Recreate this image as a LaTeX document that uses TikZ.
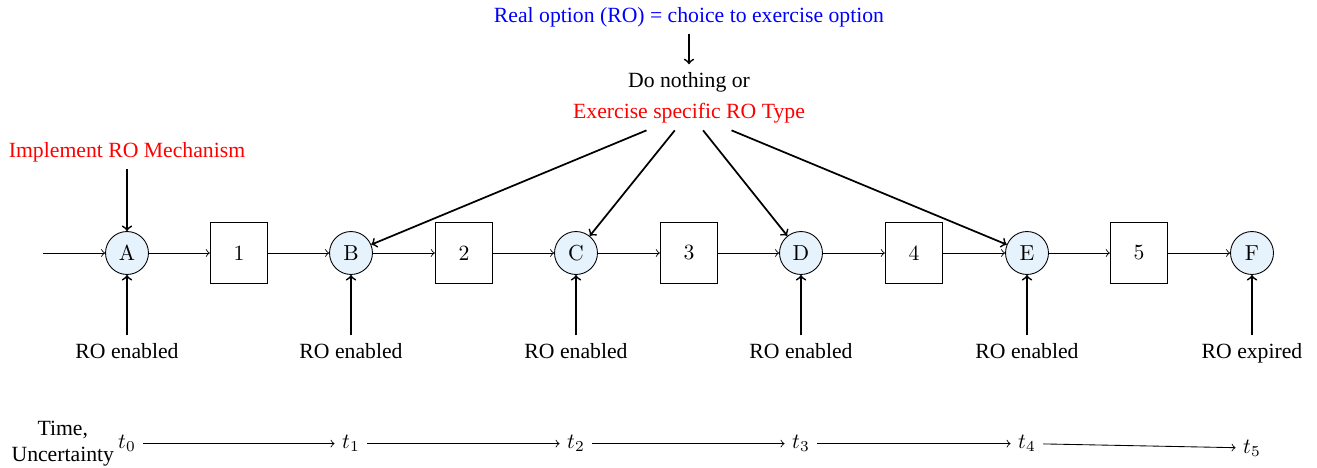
\documentclass[tikz,border=0pt]{standalone}
\usepackage{fontspec}
\newfontfamily\tnr{Liberation Serif}
\usetikzlibrary{positioning}
\definecolor{nodefill}{RGB}{230,242,252}
\begin{document}
\begin{tikzpicture}[x=0.4608pt,y=-0.4608pt,
  state/.style={circle,draw,fill=nodefill,minimum size=19.8pt,inner sep=0pt},
  stage/.style={rectangle,draw,minimum width=26.5pt,minimum height=28pt},
  lbl/.style={font=\tnr},
  flow/.style={->},
  cause/.style={->,thick},
]
\useasboundingbox (0,0) rectangle (1317,468);

% decision texts at the top
\node[lbl,text=blue,anchor=base] (ro) at (689,22) {Real option (RO) = choice to exercise option};
\node[lbl,anchor=base] (donothing) at (689,87) {Do nothing or};
\node[lbl,text=red,anchor=base] (exercise) at (689,118) {Exercise specific RO Type};
\node[lbl,text=red,anchor=base] (impl) at (127,157) {Implement RO Mechanism};

% chain of decision points and stages
\coordinate (in) at (43,253);
\node[state] (A) at (127,253) {A};
\node[stage] (s1) at (239,253) {1};
\node[state] (B) at (351,253) {B};
\node[stage] (s2) at (464,253) {2};
\node[state] (C) at (576,253) {C};
\node[stage] (s3) at (689,253) {3};
\node[state] (D) at (801,253) {D};
\node[stage] (s4) at (914,253) {4};
\node[state] (E) at (1027,253) {E};
\node[stage] (s5) at (1139,253) {5};
\node[state] (F) at (1252,253) {F};

\draw[flow] (in) -- (A);
\draw[flow] (A) -- (s1);
\draw[flow] (s1) -- (B);
\draw[flow] (B) -- (s2);
\draw[flow] (s2) -- (C);
\draw[flow] (C) -- (s3);
\draw[flow] (s3) -- (D);
\draw[flow] (D) -- (s4);
\draw[flow] (s4) -- (E);
\draw[flow] (E) -- (s5);
\draw[flow] (s5) -- (F);

% status labels under the decision points
\node[lbl,anchor=base] (lA) at (127,358) {RO enabled};
\node[lbl,anchor=base] (lB) at (351,358) {RO enabled};
\node[lbl,anchor=base] (lC) at (576,358) {RO enabled};
\node[lbl,anchor=base] (lD) at (801,358) {RO enabled};
\node[lbl,anchor=base] (lE) at (1027,358) {RO enabled};
\node[lbl,anchor=base] (lF) at (1252,358) {RO expired};

\foreach \l/\n in {lA/A,lB/B,lC/C,lD/D,lE/E,lF/F}
  \draw[cause] (\l) -- (\n);

\draw[cause] (impl) -- (A);
\draw[cause] (ro) -- (donothing);
\foreach \n in {B,C,D,E}
  \draw[cause] (exercise) -- (\n);

% time axis
\node[below=1cm of lA] (t0) {$t_0$};
\node[below=1cm of lB] (t1) {$t_1$};
\node[below=1cm of lC] (t2) {$t_2$};
\node[below=1cm of lD] (t3) {$t_3$};
\node[below=1cm of lE] (t4) {$t_4$};
\node[below=1cm of lF] (t5) {$t_5$};
\node[lbl,align=center,inner sep=0pt,left=-1.8pt of t0] (time) {Time,\\Uncertainty};

\draw[flow] (t0) -- (t1);
\draw[flow] (t1) -- (t2);
\draw[flow] (t2) -- (t3);
\draw[flow] (t3) -- (t4);
\draw[flow] (t4) -- (t5);
\end{tikzpicture}
\end{document}
